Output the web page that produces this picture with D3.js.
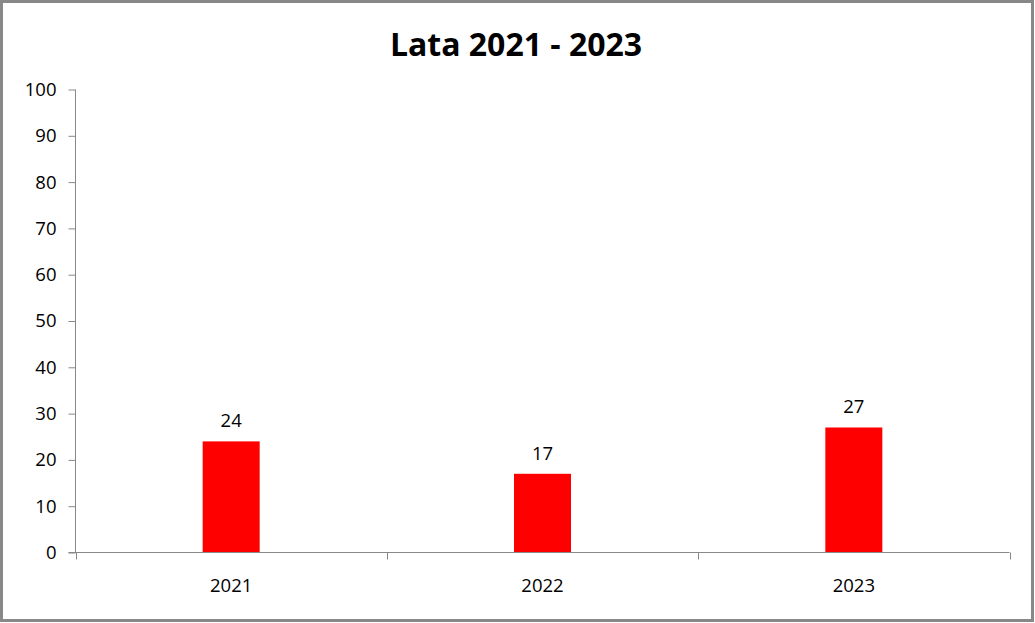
<!DOCTYPE html>
<html><head><meta charset="utf-8">
<script src="https://cdn.jsdelivr.net/npm/d3@7"></script>
<style>body{margin:0;background:#fff}svg text{font-family:"Open Sans",sans-serif}</style>
</head><body>
<script>
const title = "Lata 2021 - 2023";
const categories = ["2021", "2022", "2023"];
const values = [24, 17, 27];
const yTicks = [0,10,20,30,40,50,60,70,80,90,100];

const W = 1035, H = 623;
const FONT = "'Open Sans',sans-serif";
const FS = 18.5;
const svg = d3.select("body").append("svg").attr("width", W).attr("height", H);
svg.append("rect").attr("x", 1.5).attr("y", 1.5).attr("width", W - 4).attr("height", H - 4)
  .attr("fill", "#fff").attr("stroke", "#888").attr("stroke-width", 3);

const pL = 75.5, pR = 1009.5, pT = 89.5, pB = 552.5;
const x = d3.scaleBand().domain(categories).range([pL, pR]).paddingInner(0).paddingOuter(0);
const y = d3.scaleLinear().domain([0, 100]).range([pB, pT]);

svg.append("text").attr("x", 516).attr("y", 56).attr("text-anchor", "middle")
  .attr("font-size", 32).attr("font-weight", "bold").text(title);

const barW = 57;
svg.selectAll("rect.bar").data(values).enter().append("rect")
  .attr("x", (d, i) => x(categories[i]) + x.bandwidth() / 2 - barW / 2)
  .attr("y", d => y(d)).attr("width", barW).attr("height", d => pB - y(d))
  .attr("fill", "#ff0000");

svg.selectAll("text.lbl").data(values).enter().append("text")
  .attr("x", (d, i) => x(categories[i]) + x.bandwidth() / 2)
  .attr("y", d => y(d) - 14).attr("text-anchor", "middle").attr("font-size", FS)
  .attr("fill", "#000").text(d => d);

const yAxis = d3.axisLeft(y).tickValues(yTicks).tickSize(7).tickPadding(12);
const gy = svg.append("g").attr("transform", `translate(${pL},0)`).call(yAxis);
gy.select(".domain").attr("stroke", "#888").attr("d", `M0,${pT}V${pB + 0.5}`);
gy.selectAll(".tick line").attr("stroke", "#888");
gy.selectAll(".tick text").attr("font-size", FS).attr("fill", "#000").attr("font-family", FONT);

const xTickPos = [pL, ...categories.map(c => x(c) + x.bandwidth())];
const gx = svg.append("g");
gx.append("line").attr("x1", pL - 7).attr("x2", pR).attr("y1", pB).attr("y2", pB).attr("stroke", "#888");
gx.selectAll("line.t").data(xTickPos).enter().append("line")
  .attr("x1", d => Math.round(d) + 0.5).attr("x2", d => Math.round(d) + 0.5)
  .attr("y1", pB).attr("y2", pB + 7).attr("stroke", "#888");
gx.selectAll("text").data(categories).enter().append("text")
  .attr("x", d => x(d) + x.bandwidth() / 2).attr("y", 592).attr("text-anchor", "middle")
  .attr("font-size", FS).attr("fill", "#000").text(d => d);
</script>
</body></html>
